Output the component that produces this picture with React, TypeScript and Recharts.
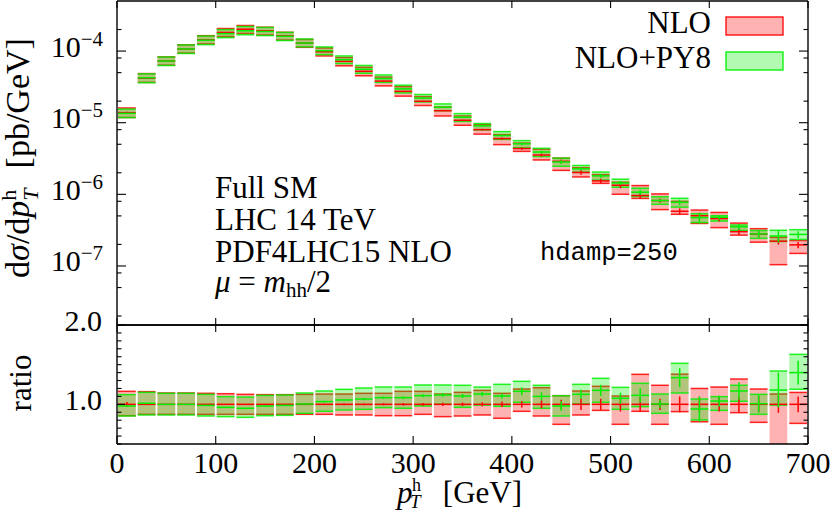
import React from 'react';
import { ComposedChart, Bar, XAxis, YAxis } from 'recharts';

const W = 830;
const H = 515;
const PLOT_LEFT = 117;
const PLOT_RIGHT_GAP = 22;
const BIN_PX = (W - PLOT_LEFT - PLOT_RIGHT_GAP) / 35;

const SERIF = '"Liberation Serif", "Times New Roman", serif';
const MONO = '"Liberation Mono", "DejaVu Sans Mono", monospace';
const RED = '#ff0000';
const GREEN = '#00f000';

// pT bins (lower edge, GeV), 20 GeV wide
const binStart = [
  0, 20, 40, 60, 80, 100, 120, 140, 160, 180, 200, 220, 240, 260, 280, 300, 320, 340,
  360, 380, 400, 420, 440, 460, 480, 500, 520, 540, 560, 580, 600, 620, 640, 660, 680,
];

// NLO central value, dsigma/dpT [pb/GeV]
const nloCentral = [
  1.38e-5, 4.18e-5, 7.26e-5, 1.07e-4, 1.44e-4, 1.82e-4, 2.02e-4, 1.92e-4, 1.63e-4, 1.29e-4,
  9.78e-5, 7.19e-5, 5.22e-5, 3.81e-5, 2.74e-5, 1.99e-5, 1.47e-5, 1.08e-5, 8.0e-6, 6.0e-6,
  4.36e-6, 3.54e-6, 2.89e-6, 2.02e-6, 1.54e-6, 1.34e-6, 9.62e-7, 8.18e-7, 5.8e-7, 5.03e-7,
  4.59e-7, 3.01e-7, 2.78e-7, 2.22e-7, 1.97e-7,
];

// everything below is relative to the NLO central value (ratio panel)
const nloHi = [
  1.164, 1.16, 1.143, 1.143, 1.139, 1.134, 1.126, 1.122, 1.122, 1.126, 1.13, 1.13, 1.139, 1.139,
  1.164, 1.164, 1.13, 1.151, 1.176, 1.139, 1.193, 1.21, 1.109, 1.168, 1.227, 1.105, 1.378, 1.24,
  1.38, 1.2, 1.218, 1.319, 1.193, 1.13, 1.15,
];
const nloLo = [
  0.857, 0.874, 0.874, 0.874, 0.874, 0.874, 0.874, 0.874, 0.874, 0.874, 0.874, 0.866, 0.866, 0.857,
  0.857, 0.874, 0.845, 0.853, 0.866, 0.824, 0.912, 0.853, 0.748, 0.866, 0.924, 0.748, 0.912, 0.748,
  0.908, 0.78, 0.748, 0.895, 0.773, 0.47, 0.76,
];
const nloErr = [
  0.03, 0.01, 0.004, 0.004, 0.004, 0.004, 0.005, 0.005, 0.006, 0.007, 0.008, 0.01, 0.012, 0.014,
  0.016, 0.018, 0.02, 0.022, 0.025, 0.035, 0.04, 0.05, 0.057, 0.07, 0.07, 0.09, 0.095, 0.07, 0.1,
  0.095, 0.09, 0.1, 0.1, 0.107, 0.1,
];
const pyRatio = [
  0.979, 1.013, 1.0, 1.0, 0.987, 0.962, 0.95, 0.979, 0.987, 1.004, 1.034, 1.055, 1.067, 1.084,
  1.084, 1.109, 1.118, 1.105, 1.13, 1.105, 1.164, 1.1, 0.979, 1.126, 1.176, 1.076, 1.113, 1.004,
  1.336, 0.941, 1.042, 1.168, 1.008, 1.18, 1.4,
];
const pyHi = [
  1.122, 1.151, 1.139, 1.139, 1.126, 1.097, 1.092, 1.113, 1.118, 1.143, 1.168, 1.189, 1.206, 1.218,
  1.218, 1.244, 1.244, 1.24, 1.218, 1.252, 1.29, 1.24, 1.109, 1.252, 1.328, 1.214, 1.265, 1.13,
  1.517, 1.067, 1.097, 1.24, 1.126, 1.42, 1.63,
];
const pyLo = [
  0.853, 0.866, 0.866, 0.866, 0.853, 0.845, 0.836, 0.857, 0.861, 0.887, 0.912, 0.929, 0.937, 0.958,
  0.95, 0.979, 1.0, 0.962, 0.99, 0.975, 1.025, 0.95, 0.853, 1.004, 1.025, 0.937, 0.971, 0.887,
  1.143, 0.803, 0.924, 1.038, 0.874, 0.99, 1.19,
];
const pyErr = [
  0.01, 0.006, 0.005, 0.005, 0.005, 0.005, 0.006, 0.006, 0.007, 0.008, 0.01, 0.012, 0.014, 0.016,
  0.018, 0.02, 0.022, 0.025, 0.028, 0.03, 0.05, 0.05, 0.06, 0.057, 0.07, 0.07, 0.09, 0.05, 0.12,
  0.16, 0.07, 0.11, 0.11, 0.22, 0.15,
];

// axes
const xTicks = [0, 100, 200, 300, 400, 500, 600, 700];
const yMajor = [1e-4, 1e-5, 1e-6, 1e-7];
const yMajorExp = ['−4', '−5', '−6', '−7'];
const yMinor = [2e-4, 8e-5, 5e-5, 2e-5, 8e-6, 5e-6, 2e-6, 8e-7, 5e-7, 2e-7, 8e-8, 5e-8, 2e-8];
const ratioTicks = [0.5, 0.6, 0.7, 0.8, 0.9, 1.0, 1.1, 1.2, 1.3, 1.4, 1.5, 1.6, 1.7, 1.8, 1.9, 2.0];
const ratioLabels = [1.0, 2.0];

const mainRows = binStart.map((b, i) => {
  const c = nloCentral[i];
  return {
    bin: b,
    mid: b + 10,
    nloBand: [c * nloLo[i], c * nloHi[i]],
    pyBand: [c * pyLo[i], c * pyHi[i]],
    nloMid: [c, c],
    pyMid: [c * pyRatio[i], c * pyRatio[i]],
    nloStat: [c * (1 - nloErr[i]), c * (1 + nloErr[i])],
    pyStat: [c * (pyRatio[i] - pyErr[i]), c * (pyRatio[i] + pyErr[i])],
  };
});

const ratioRows = binStart.map((b, i) => ({
  bin: b,
  mid: b + 10,
  nloBand: [nloLo[i], nloHi[i]],
  pyBand: [pyLo[i], pyHi[i]],
  nloMid: [1, 1],
  pyMid: [pyRatio[i], pyRatio[i]],
  nloStat: [1 - nloErr[i], 1 + nloErr[i]],
  pyStat: [pyRatio[i] - pyErr[i], pyRatio[i] + pyErr[i]],
}));

// bar shapes
const bandShape = (color: string) => (p: any) => {
  const top = Math.min(p.y, p.y + p.height);
  const h = Math.abs(p.height);
  return (
    <g>
      <rect x={p.x} y={top} width={p.width} height={h} fill={color} fillOpacity={0.3} />
      <line x1={p.x} x2={p.x + p.width} y1={top} y2={top} stroke={color} strokeOpacity={0.85} strokeWidth={1.5} />
      <line x1={p.x} x2={p.x + p.width} y1={top + h} y2={top + h} stroke={color} strokeOpacity={0.85} strokeWidth={1.5} />
    </g>
  );
};
const midShape = (color: string) => (p: any) => (
  <line x1={p.x} x2={p.x + p.width} y1={p.y} y2={p.y} stroke={color} strokeWidth={1.5} />
);
const statShape = (color: string) => (p: any) => {
  const top = Math.min(p.y, p.y + p.height);
  const cx = p.x + p.width / 2;
  return <line x1={cx} x2={cx} y1={top} y2={top + Math.abs(p.height)} stroke={color} strokeWidth={1.5} />;
};

const layers = [
  { key: 'nloBand', shape: bandShape(RED) },
  { key: 'pyBand', shape: bandShape(GREEN) },
  { key: 'nloMid', shape: midShape(RED) },
  { key: 'nloStat', shape: statShape(RED) },
  { key: 'pyMid', shape: midShape(GREEN) },
  { key: 'pyStat', shape: statShape(GREEN) },
];

const frame = { stroke: '#000', strokeWidth: 1.4 };

// ticks (gnuplot style: pointing inwards)
function LogTickLeft({ x, y, payload }: any) {
  const k = yMajor.indexOf(payload.value);
  return (
    <g>
      <line x1={x} x2={x + (k >= 0 ? 9 : 4.5)} y1={y} y2={y} stroke="#000" strokeWidth={1.1} />
      {k >= 0 && (
        <text x={x - 14} y={y + 5.5} textAnchor="end" fontFamily={SERIF} fontSize={30} fill="#000">
          10<tspan dy={-11} fontSize={21}>{yMajorExp[k]}</tspan>
        </text>
      )}
    </g>
  );
}
function LogTickRight({ x, y, payload }: any) {
  const major = yMajor.includes(payload.value);
  return <line x1={x} x2={x - (major ? 9 : 4.5)} y1={y} y2={y} stroke="#000" strokeWidth={1.1} />;
}
function RatioTickLeft({ x, y, payload }: any) {
  const major = ratioLabels.includes(payload.value);
  return (
    <g>
      <line x1={x} x2={x + (major ? 8 : 4.5)} y1={y} y2={y} stroke="#000" strokeWidth={1.1} />
      {major && (
        <text x={x - 15} y={y + 6} textAnchor="end" fontFamily={SERIF} fontSize={30} fill="#000">
          {payload.value.toFixed(1)}
        </text>
      )}
    </g>
  );
}
function RatioTickRight({ x, y, payload }: any) {
  const major = ratioLabels.includes(payload.value);
  return <line x1={x} x2={x - (major ? 8 : 4.5)} y1={y} y2={y} stroke="#000" strokeWidth={1.1} />;
}
const xTickUp = ({ x, y }: any) => <line x1={x} x2={x} y1={y} y2={y - 7} stroke="#000" strokeWidth={1.1} />;
const xTickDown = ({ x, y }: any) => <line x1={x} x2={x} y1={y} y2={y + 7} stroke="#000" strokeWidth={1.1} />;
function XTickLabelled({ x, y, payload }: any) {
  return (
    <g>
      <line x1={x} x2={x} y1={y} y2={y - 8} stroke="#000" strokeWidth={1.1} />
      <text x={x} y={y + 29} textAnchor="middle" fontFamily={SERIF} fontSize={30} fill="#000">
        {payload.value}
      </text>
    </g>
  );
}

const axisCommon = { tickSize: 0, tickMargin: 0, tickLine: false, interval: 0 as const, allowDataOverflow: true };

function Panel({ rows, upper }: { rows: any[]; upper: boolean }) {
  return (
    <ComposedChart
      width={W}
      height={H}
      data={rows}
      margin={upper ? { top: 0, right: 0, bottom: 189, left: 0 } : { top: 324, right: 0, bottom: 0, left: 0 }}
    >
      <XAxis
        xAxisId="num"
        type="number"
        dataKey="mid"
        domain={[0, 700]}
        ticks={xTicks}
        height={upper ? 1 : 71}
        axisLine={frame}
        tick={upper ? xTickUp : XTickLabelled}
        {...axisCommon}
      />
      <XAxis
        xAxisId="numTop"
        orientation="top"
        type="number"
        dataKey="mid"
        domain={[0, 700]}
        ticks={xTicks}
        height={1}
        axisLine={frame}
        tick={xTickDown}
        {...axisCommon}
      />
      {layers.map((l) => (
        <XAxis key={'ax' + l.key} xAxisId={l.key} dataKey="bin" type="category" height={0} hide />
      ))}
      <YAxis
        yAxisId="left"
        type="number"
        scale={upper ? 'log' : 'linear'}
        domain={upper ? [1.5e-8, 5e-4] : [0.5, 2.0]}
        ticks={upper ? [...yMajor, ...yMinor] : ratioTicks}
        width={PLOT_LEFT}
        axisLine={frame}
        tick={upper ? LogTickLeft : RatioTickLeft}
        {...axisCommon}
      />
      <YAxis
        yAxisId="right"
        orientation="right"
        type="number"
        scale={upper ? 'log' : 'linear'}
        domain={upper ? [1.5e-8, 5e-4] : [0.5, 2.0]}
        ticks={upper ? [...yMajor, ...yMinor] : ratioTicks}
        width={PLOT_RIGHT_GAP}
        axisLine={frame}
        tick={upper ? LogTickRight : RatioTickRight}
        {...axisCommon}
      />
      {layers.map((l) => (
        <Bar
          key={l.key}
          xAxisId={l.key}
          yAxisId="left"
          dataKey={l.key}
          barSize={BIN_PX}
          shape={l.shape}
          isAnimationActive={false}
        />
      ))}
    </ComposedChart>
  );
}

export default function App() {
  const abs: React.CSSProperties = { position: 'absolute', left: 0, top: 0, width: W, height: H };
  return (
    <div style={{ ...abs, background: '#fff', fontFamily: SERIF }}>
      <div style={abs}>
        <Panel rows={mainRows} upper />
      </div>
      <div style={abs}>
        <Panel rows={ratioRows} upper={false} />
      </div>
      <svg style={{ ...abs, pointerEvents: 'none' }} width={W} height={H}>
        <g fontFamily={SERIF} fill="#000">
          {/* axis titles */}
          <text transform="translate(29,158) rotate(-90)" textAnchor="middle" fontSize={34}>
            d<tspan fontStyle="italic">σ</tspan>/d<tspan fontStyle="italic">p</tspan>
            <tspan fontSize={22} dy={-13}>h</tspan>
            <tspan fontSize={22} fontStyle="italic" dx={-11} dy={22}>T</tspan>
            <tspan dy={-9} dx={20}>[pb/GeV]</tspan>
          </text>
          <text transform="translate(31,383) rotate(-90)" textAnchor="middle" fontSize={31}>
            ratio
          </text>
          <text x={397} y={503} fontSize={31} fontStyle="italic">p</text>
          <text x={412} y={491} fontSize={18}>h</text>
          <text x={410} y={508} fontSize={19} fontStyle="italic">T</text>
          <text x={522} y={503} fontSize={31} textAnchor="end">[GeV]</text>

          {/* process info */}
          <text x={215} y={198} fontSize={31}>Full SM</text>
          <text x={215} y={230} fontSize={31}>LHC 14 TeV</text>
          <text x={215} y={262} fontSize={31}>PDF4LHC15 NLO</text>
          <text x={215} y={292} fontSize={31}>
            <tspan fontStyle="italic">μ</tspan>
            {' = '}
            <tspan fontStyle="italic">m</tspan>
            <tspan fontSize={21} dy={5}>hh</tspan>
            <tspan dy={-5}>/2</tspan>
          </text>
          <text x={540} y={260} fontSize={25.5} fontFamily={MONO}>hdamp=250</text>

          {/* legend */}
          <text x={711} y={33} fontSize={31} textAnchor="end">NLO</text>
          <rect x={726} y={17} width={57} height={18} fill={RED} fillOpacity={0.3} stroke={RED} strokeWidth={1.3} />
          <text x={711} y={68} fontSize={31} textAnchor="end">NLO+PY8</text>
          <rect x={726} y={52} width={57} height={18} fill={GREEN} fillOpacity={0.3} stroke={GREEN} strokeWidth={1.3} />
        </g>
      </svg>
    </div>
  );
}
